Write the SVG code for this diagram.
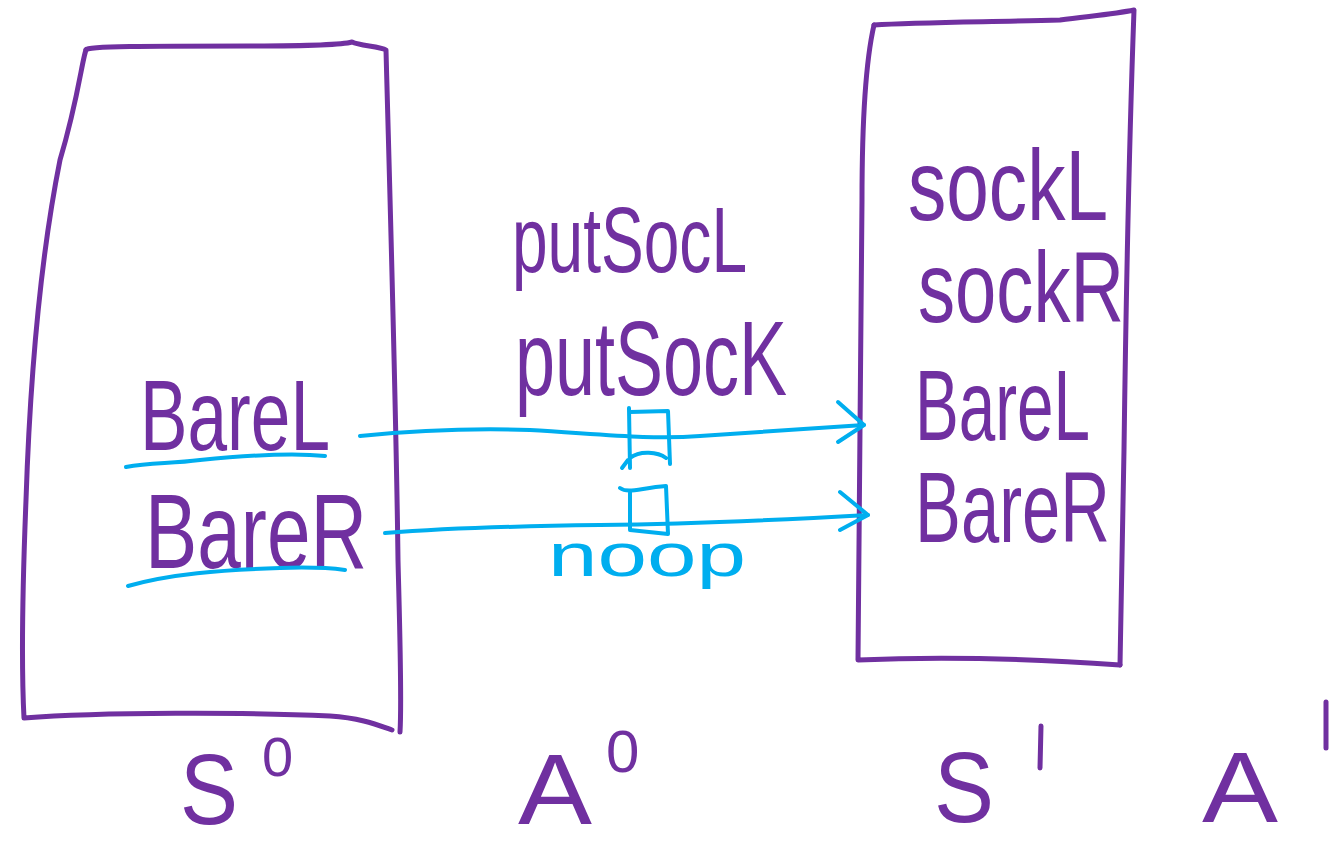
<svg xmlns="http://www.w3.org/2000/svg" width="1335" height="848" viewBox="0 0 1335 848">
  <defs>
    <style>
      .ink { fill: none; stroke: #7030A0; stroke-width: 5; stroke-linecap: round; stroke-linejoin: round; }
      .wire { fill: none; stroke: #00AEEF; stroke-width: 4; stroke-linecap: round; stroke-linejoin: round; }
      .lbl { font-family: "Liberation Sans", "DejaVu Sans", sans-serif; fill: #7030A0; }
      .clbl { font-family: "Liberation Sans", "DejaVu Sans", sans-serif; fill: #00AEEF; }
    </style>
    <marker id="chev" viewBox="0 0 12 12" refX="11" refY="6" markerWidth="7" markerHeight="7" markerUnits="userSpaceOnUse" orient="auto">
      <path d="M1,1 L11,6 L1,11" fill="none" stroke="#00AEEF" stroke-width="1.6" stroke-linecap="round" stroke-linejoin="round"/>
    </marker>
  </defs>
  <rect width="1335" height="848" fill="#ffffff"/>

  <!-- state S0 -->
  <g id="state-s0">
    <path class="ink" d="M86,50 C84,46 150,46 250,46 C320,46 345,44 352,42 C360,46 380,46 386,50 C390,200 396,400 398,560 C400,640 402,700 400,732"/>
    <path class="ink" d="M86,50 C82,60 78,100 60,160 C40,260 30,380 26,500 C22,600 22,680 24,718 C100,712 250,712 330,716 C360,718 375,724 392,730"/>
    <text class="lbl" x="140" y="450" font-size="100" textLength="190" lengthAdjust="spacingAndGlyphs">BareL</text>
    <text class="lbl" x="145" y="568" font-size="105" textLength="222" lengthAdjust="spacingAndGlyphs">BareR</text>
    <path class="wire" d="M126,467 C150,462 170,464 200,460 C240,456 290,452 325,456"/>
    <path class="wire" d="M128,586 C170,574 220,570 280,568 C310,567 330,568 345,570"/>
  </g>

  <!-- state S1 -->
  <g id="state-s1">
    <path class="ink" d="M874,25 C920,22 1000,22 1060,20 C1090,16 1115,14 1134,10 C1130,120 1126,300 1124,450 C1122,560 1120,630 1120,665"/>
    <path class="ink" d="M874,25 C866,60 862,120 862,200 C862,350 860,500 858,660 C950,656 1050,660 1120,665"/>
    <text class="lbl" x="908" y="220" font-size="100" textLength="200" lengthAdjust="spacingAndGlyphs">sockL</text>
    <text class="lbl" x="918" y="322" font-size="100" textLength="206" lengthAdjust="spacingAndGlyphs">sockR</text>
    <text class="lbl" x="915" y="440" font-size="100" textLength="175" lengthAdjust="spacingAndGlyphs">BareL</text>
    <text class="lbl" x="915" y="542" font-size="100" textLength="195" lengthAdjust="spacingAndGlyphs">BareR</text>
  </g>

  <!-- action A0 -->
  <g id="action-a0">
    <text class="lbl" x="512" y="272" font-size="92" textLength="235" lengthAdjust="spacingAndGlyphs">putSocL</text>
    <text class="lbl" x="515" y="395" font-size="105" textLength="272" lengthAdjust="spacingAndGlyphs">putSocK</text>
    <text class="clbl" x="548" y="576" font-size="62" textLength="198" lengthAdjust="spacingAndGlyphs">noop</text>
    <path class="wire" d="M629,408 L630,468 M630,412 L668,411 L670,464 M630,458 C640,450 658,452 666,458 M622,468 L628,460"/>
    <path class="wire" d="M620,488 C628,494 640,488 666,486 L668,534 L630,530 L630,492"/>
  </g>

  <!-- transitions -->
  <g id="connectors">
    <path class="wire" d="M360,436 C420,430 470,428 530,430 C600,434 650,440 700,436 C760,432 820,428 864,425" marker-end="url(#chev)"/>
    <path class="wire" d="M385,533 C450,528 520,526 600,525 C700,524 780,520 868,515" marker-end="url(#chev)"/>
    <path class="wire" d="M838,402 L864,425 L838,442"/>
    <path class="wire" d="M840,492 L868,515 L840,530"/>
  </g>

  <!-- time-step labels -->
  <g id="labels">
    <text class="lbl" x="180" y="824" font-size="100" textLength="58" lengthAdjust="spacingAndGlyphs">S</text>
    <text class="lbl" x="262" y="776" font-size="56">0</text>
    <text class="lbl" x="518" y="824" font-size="100" textLength="74" lengthAdjust="spacingAndGlyphs">A</text>
    <text class="lbl" x="606" y="772" font-size="60">0</text>
    <text class="lbl" x="934" y="822" font-size="100" textLength="60" lengthAdjust="spacingAndGlyphs">S</text>
    <path class="ink" d="M1041,726 L1040,768"/>
    <text class="lbl" x="1202" y="822" font-size="100" textLength="76" lengthAdjust="spacingAndGlyphs">A</text>
    <path class="ink" d="M1326,702 L1326,748"/>
  </g>
</svg>
